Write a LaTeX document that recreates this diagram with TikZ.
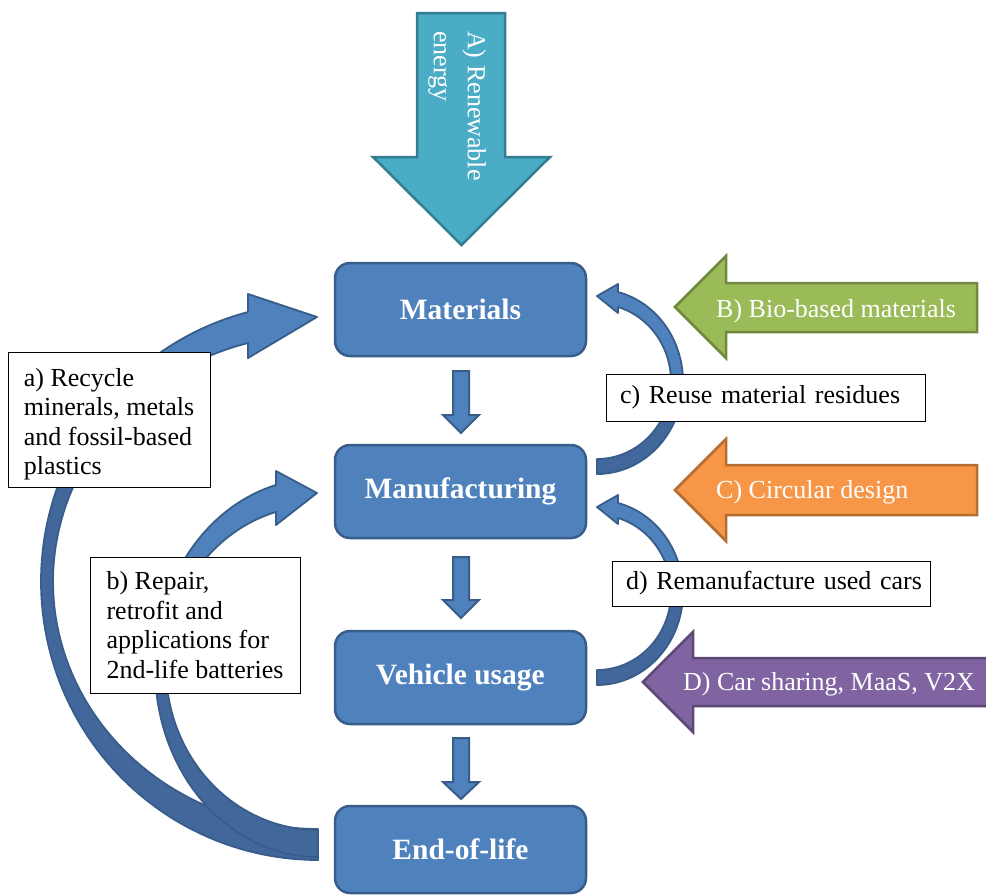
\documentclass[tikz,border=0pt]{standalone}
\usepackage{fontspec}
\setmainfont{Liberation Serif}
\definecolor{boxblue}{HTML}{4F81BD}
\definecolor{boxedge}{HTML}{385D8A}
\definecolor{backblue}{HTML}{41679B}
\definecolor{cteal}{HTML}{4BACC6}
\definecolor{ctealedge}{HTML}{357D91}
\definecolor{cgreen}{HTML}{9BBB59}
\definecolor{cgreenedge}{HTML}{71893F}
\definecolor{corange}{HTML}{F79646}
\definecolor{corangeedge}{HTML}{B66D31}
\definecolor{cpurple}{HTML}{8064A2}
\definecolor{cpurpleedge}{HTML}{5C4776}
\begin{document}
\begin{tikzpicture}[x=1pt,y=-1pt,
  stagebox/.style={draw=boxedge, fill=boxblue, line width=2.5pt, rounded corners=15pt,
    minimum width=251pt, minimum height=93pt, text=white,
    font=\fontsize{29.5}{33}\selectfont\bfseries},
  notebox/.style={draw=black, fill=white, line width=1pt, align=left,
    font=\fontsize{26}{29.5}\selectfont},
  arrowtext/.style={text=white, inner sep=0pt, font=\fontsize{26}{29.5}\selectfont},
  flowarrow/.style={draw=boxedge, fill=boxblue, line width=2pt, line join=miter},
  curvefront/.style={draw=boxedge, fill=boxblue, line width=1.8pt, line join=round},
  curveback/.style={draw=boxedge, fill=backblue, line width=1.8pt, line join=round},
  bigarrow/.style={line width=2.5pt, line join=miter}
]
\useasboundingbox (0,0) rectangle (986,895);

% A) renewable energy arrow
\draw[bigarrow, draw=ctealedge, fill=cteal] (417,13) -- (505,13) -- (505,157) -- (550,157) -- (461.5,245) -- (373,157) -- (417,157) -- cycle;
\node[arrowtext, rotate=-90, anchor=north west, align=left,
  font=\fontsize{26}{34}\selectfont] (tA) at (486,31) {A) Renewable\\energy};

% stage boxes
\node[stagebox] (mat) at (460.5,309.5) {Materials};
\node[stagebox] (man) at (460.5,491.5) {Manufacturing};
\node[stagebox] (veh) at (460.5,677.5) {Vehicle usage};
\node[stagebox, minimum height=87pt] (eol) at (460.5,849.5) {End-of-life};

% small down arrows between stages
\draw[flowarrow] (453,371) -- (469,371) -- (469,415) -- (479,415) -- (461,433) -- (443,415) -- (453,415) -- cycle;
\draw[flowarrow] (453,557) -- (469,557) -- (469,600) -- (479,600) -- (461,618) -- (443,600) -- (453,600) -- cycle;
\draw[flowarrow] (453,738) -- (469,738) -- (469,782) -- (479,782) -- (461,799) -- (443,782) -- (453,782) -- cycle;

% curved arrow a) End-of-life -> Materials
\draw[curveback] plot[domain=144.6:270, samples=70] ({318+277*cos(\x)},{581.5-278.5*sin(\x)})
  -- plot[domain=270:139.2, samples=70] ({318+265*cos(\x)},{581.6-247.4*sin(\x)}) -- cycle;
\draw[curvefront] plot[domain=144.6:104.64, samples=50] ({318+277*cos(\x)},{581.5-278.5*sin(\x)})
  -- (248,294) -- (317,317) -- (248,358)
  -- plot[domain=105.3:139.2, samples=50] ({318+265*cos(\x)},{581.6-247.4*sin(\x)}) -- cycle;

% curved arrow b) End-of-life -> Manufacturing
\draw[curveback] plot[domain=165.4:270, samples=60] ({318+163*cos(\x)},{667.8-189.2*sin(\x)})
  -- plot[domain=270:162.9, samples=60] ({318+152*cos(\x)},{667.8-162.2*sin(\x)}) -- cycle;
\draw[curvefront] plot[domain=165.4:104.93, samples=50] ({318+163*cos(\x)},{667.8-189.2*sin(\x)})
  -- (276,471) -- (317,493) -- (276,525)
  -- plot[domain=106.04:162.9, samples=50] ({318+152*cos(\x)},{667.8-162.2*sin(\x)}) -- cycle;

% curved arrow c) Manufacturing -> Materials
\draw[curveback] plot[domain=-10.2:-90, samples=40] ({597+86*cos(\x)},{381.6-92.4*sin(\x)})
  -- plot[domain=-90:-12.35, samples=40] ({597+74*cos(\x)},{381.4-77.6*sin(\x)}) -- cycle;
\draw[curvefront] plot[domain=75.87:-10.2, samples=40] ({597+86*cos(\x)},{381.6-92.4*sin(\x)})
  -- plot[domain=-12.35:73.51, samples=40] ({597+74*cos(\x)},{381.4-77.6*sin(\x)})
  -- (618,313) -- (597,296) -- (618,284) -- cycle;

% curved arrow d) Vehicle usage -> Manufacturing
\draw[curveback] plot[domain=-1.5:-90, samples=40] ({597+86*cos(\x)},{592.6-92.4*sin(\x)})
  -- plot[domain=-90:-1.8, samples=40] ({597+74*cos(\x)},{592.4-77.6*sin(\x)}) -- cycle;
\draw[curvefront] plot[domain=75.87:-1.5, samples=40] ({597+86*cos(\x)},{592.6-92.4*sin(\x)})
  -- plot[domain=-1.8:73.51, samples=40] ({597+74*cos(\x)},{592.4-77.6*sin(\x)})
  -- (618,524) -- (597,507) -- (618,495) -- cycle;

% B, C, D input arrows
\draw[bigarrow, draw=cgreenedge, fill=cgreen] (977,283) -- (726,283) -- (726,256) -- (675,307) -- (726,358) -- (726,332) -- (977,332) -- cycle;
\node[arrowtext, anchor=base west] (tB) at (716,317) {B) Bio-based materials};
\draw[bigarrow, draw=corangeedge, fill=corange] (977,465) -- (726,465) -- (726,439) -- (675,490) -- (726,541) -- (726,515) -- (977,515) -- cycle;
\node[arrowtext, anchor=base west] (tC) at (716,498.5) {C) Circular design};
\draw[bigarrow, draw=cpurpleedge, fill=cpurple] (996,658) -- (693,658) -- (693,632) -- (643,682) -- (693,732) -- (693,706) -- (996,706) -- cycle;
\node[arrowtext, anchor=base west] (tD) at (683,690.5) {D) Car sharing, MaaS, V2X};

% note boxes
\node[notebox, minimum width=202pt, minimum height=135pt] (na) at (109,419.5)
  {\rule{0pt}{28pt}a) Recycle\\minerals, metals\\and fossil-based\\plastics};
\node[notebox, minimum width=210pt, minimum height=136pt] (nb) at (195,625)
  {b) Repair,\\retrofit and\\applications for\\2nd-life batteries};
\node[notebox, text width=291pt, inner xsep=14pt, minimum height=47pt] (nc) at (765.5,397.5)
  {\mbox{c) Reuse material residues}};
\node[notebox, text width=290pt, inner xsep=14pt, minimum height=45pt] (nd) at (771,583.5)
  {\mbox{d) Remanufacture used cars}};
\end{tikzpicture}
\end{document}
